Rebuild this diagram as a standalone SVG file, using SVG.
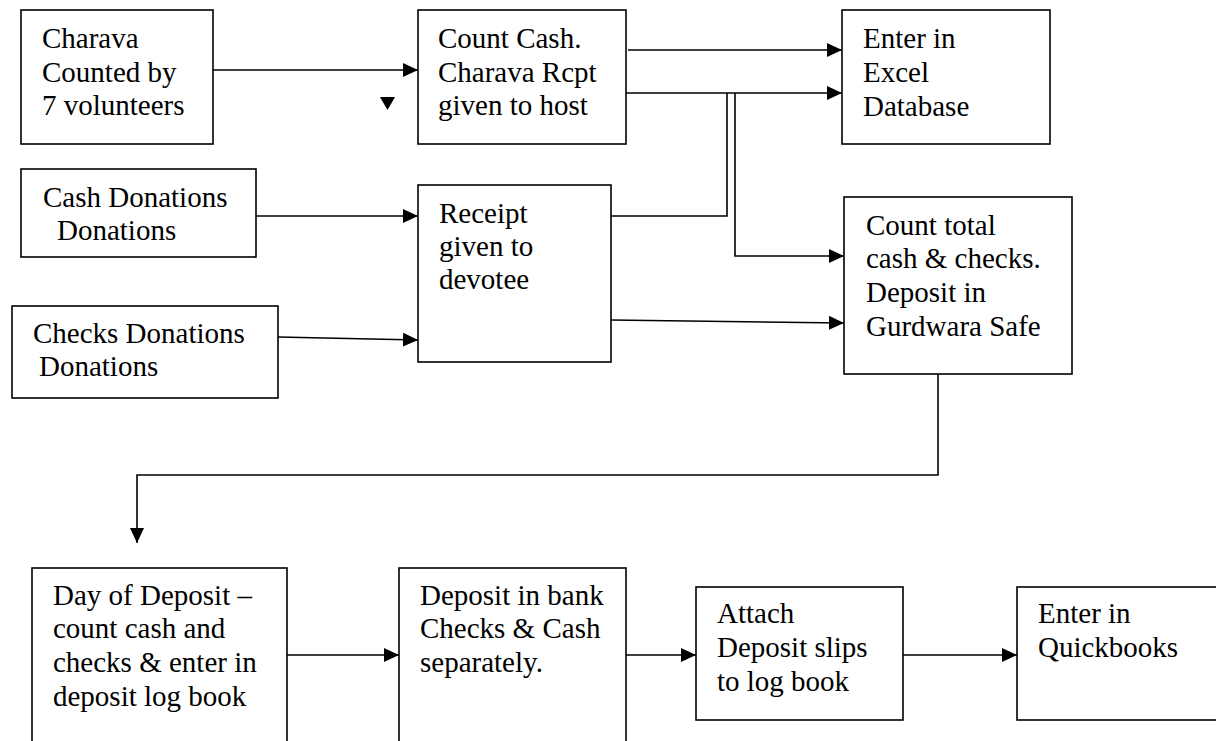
<svg xmlns="http://www.w3.org/2000/svg" width="1216" height="741" viewBox="0 0 1216 741">
<style>
.box{fill:#fff;stroke:#000;stroke-width:1.6}
.c{fill:none;stroke:#000;stroke-width:1.6}
</style>
<defs>
<marker id="ah" markerUnits="userSpaceOnUse" markerWidth="16" markerHeight="16" refX="15" refY="7" orient="auto">
<path d="M0,0 L15,7 L0,14 z" fill="#000"/>
</marker>
</defs>
<rect width="1216" height="741" fill="#fff"/>
<g font-family="Liberation Serif, DejaVu Serif, serif" font-size="29" fill="#000">
<g id="n1"><rect class="box" x="21" y="10" width="192" height="134"/>
<text x="42" y="48">Charava</text><text x="42" y="82">Counted by</text><text x="42" y="115">7 volunteers</text></g>
<g id="n2"><rect class="box" x="418" y="10" width="208" height="134"/>
<text x="438" y="48">Count Cash.</text><text x="438" y="82">Charava Rcpt</text><text x="438" y="115">given to host</text></g>
<g id="n3"><rect class="box" x="842" y="10" width="208" height="134"/>
<text x="863" y="48">Enter in</text><text x="863" y="82">Excel</text><text x="863" y="116">Database</text></g>
<g id="n4"><rect class="box" x="21" y="169" width="235" height="88"/>
<text x="43" y="207">Cash Donations</text><text x="57" y="240">Donations</text></g>
<g id="n5"><rect class="box" x="418" y="185" width="193" height="177"/>
<text x="439" y="223">Receipt</text><text x="439" y="256">given to</text><text x="439" y="289">devotee</text></g>
<g id="n6"><rect class="box" x="12" y="306" width="266" height="92"/>
<text x="33" y="343">Checks Donations</text><text x="39" y="376">Donations</text></g>
<g id="n7"><rect class="box" x="844" y="197" width="228" height="177"/>
<text x="866" y="235">Count total</text><text x="866" y="268">cash &amp; checks.</text><text x="866" y="302">Deposit in</text><text x="866" y="336">Gurdwara Safe</text></g>
<g id="n8"><rect class="box" x="32" y="568" width="255" height="200"/>
<text x="53" y="605">Day of Deposit –</text><text x="53" y="638">count cash and</text><text x="53" y="672">checks &amp; enter in</text><text x="53" y="706">deposit log book</text></g>
<g id="n9"><rect class="box" x="399" y="568" width="227" height="200"/>
<text x="420" y="605">Deposit in bank</text><text x="420" y="638">Checks &amp; Cash</text><text x="420" y="672">separately.</text></g>
<g id="n10"><rect class="box" x="696" y="587" width="207" height="133"/>
<text x="717" y="623">Attach</text><text x="717" y="657">Deposit slips</text><text x="717" y="691">to log book</text></g>
<g id="n11"><rect class="box" x="1017" y="587" width="220" height="133"/>
<text x="1038" y="623">Enter in</text><text x="1038" y="657">Quickbooks</text></g>
</g>
<g id="connectors">
<path class="c" d="M213,70 H418" marker-end="url(#ah)"/>
<path class="c" d="M628,50 H842" marker-end="url(#ah)"/>
<path class="c" d="M626,93 H842" marker-end="url(#ah)"/>
<path class="c" d="M611,216 H727 V93"/>
<path class="c" d="M735,93 V256 H844" marker-end="url(#ah)"/>
<path class="c" d="M611,320 L844,323" marker-end="url(#ah)"/>
<path class="c" d="M256,216 H418" marker-end="url(#ah)"/>
<path class="c" d="M278,337 L418,340" marker-end="url(#ah)"/>
<path class="c" d="M938,374 V475 H137 V543" marker-end="url(#ah)"/>
<path class="c" d="M287,655 H399" marker-end="url(#ah)"/>
<path class="c" d="M626,655 H696" marker-end="url(#ah)"/>
<path class="c" d="M903,655 H1017" marker-end="url(#ah)"/>
<path d="M380,97 L395,97 L387.5,110 z" fill="#000"/>
</g>
</svg>
